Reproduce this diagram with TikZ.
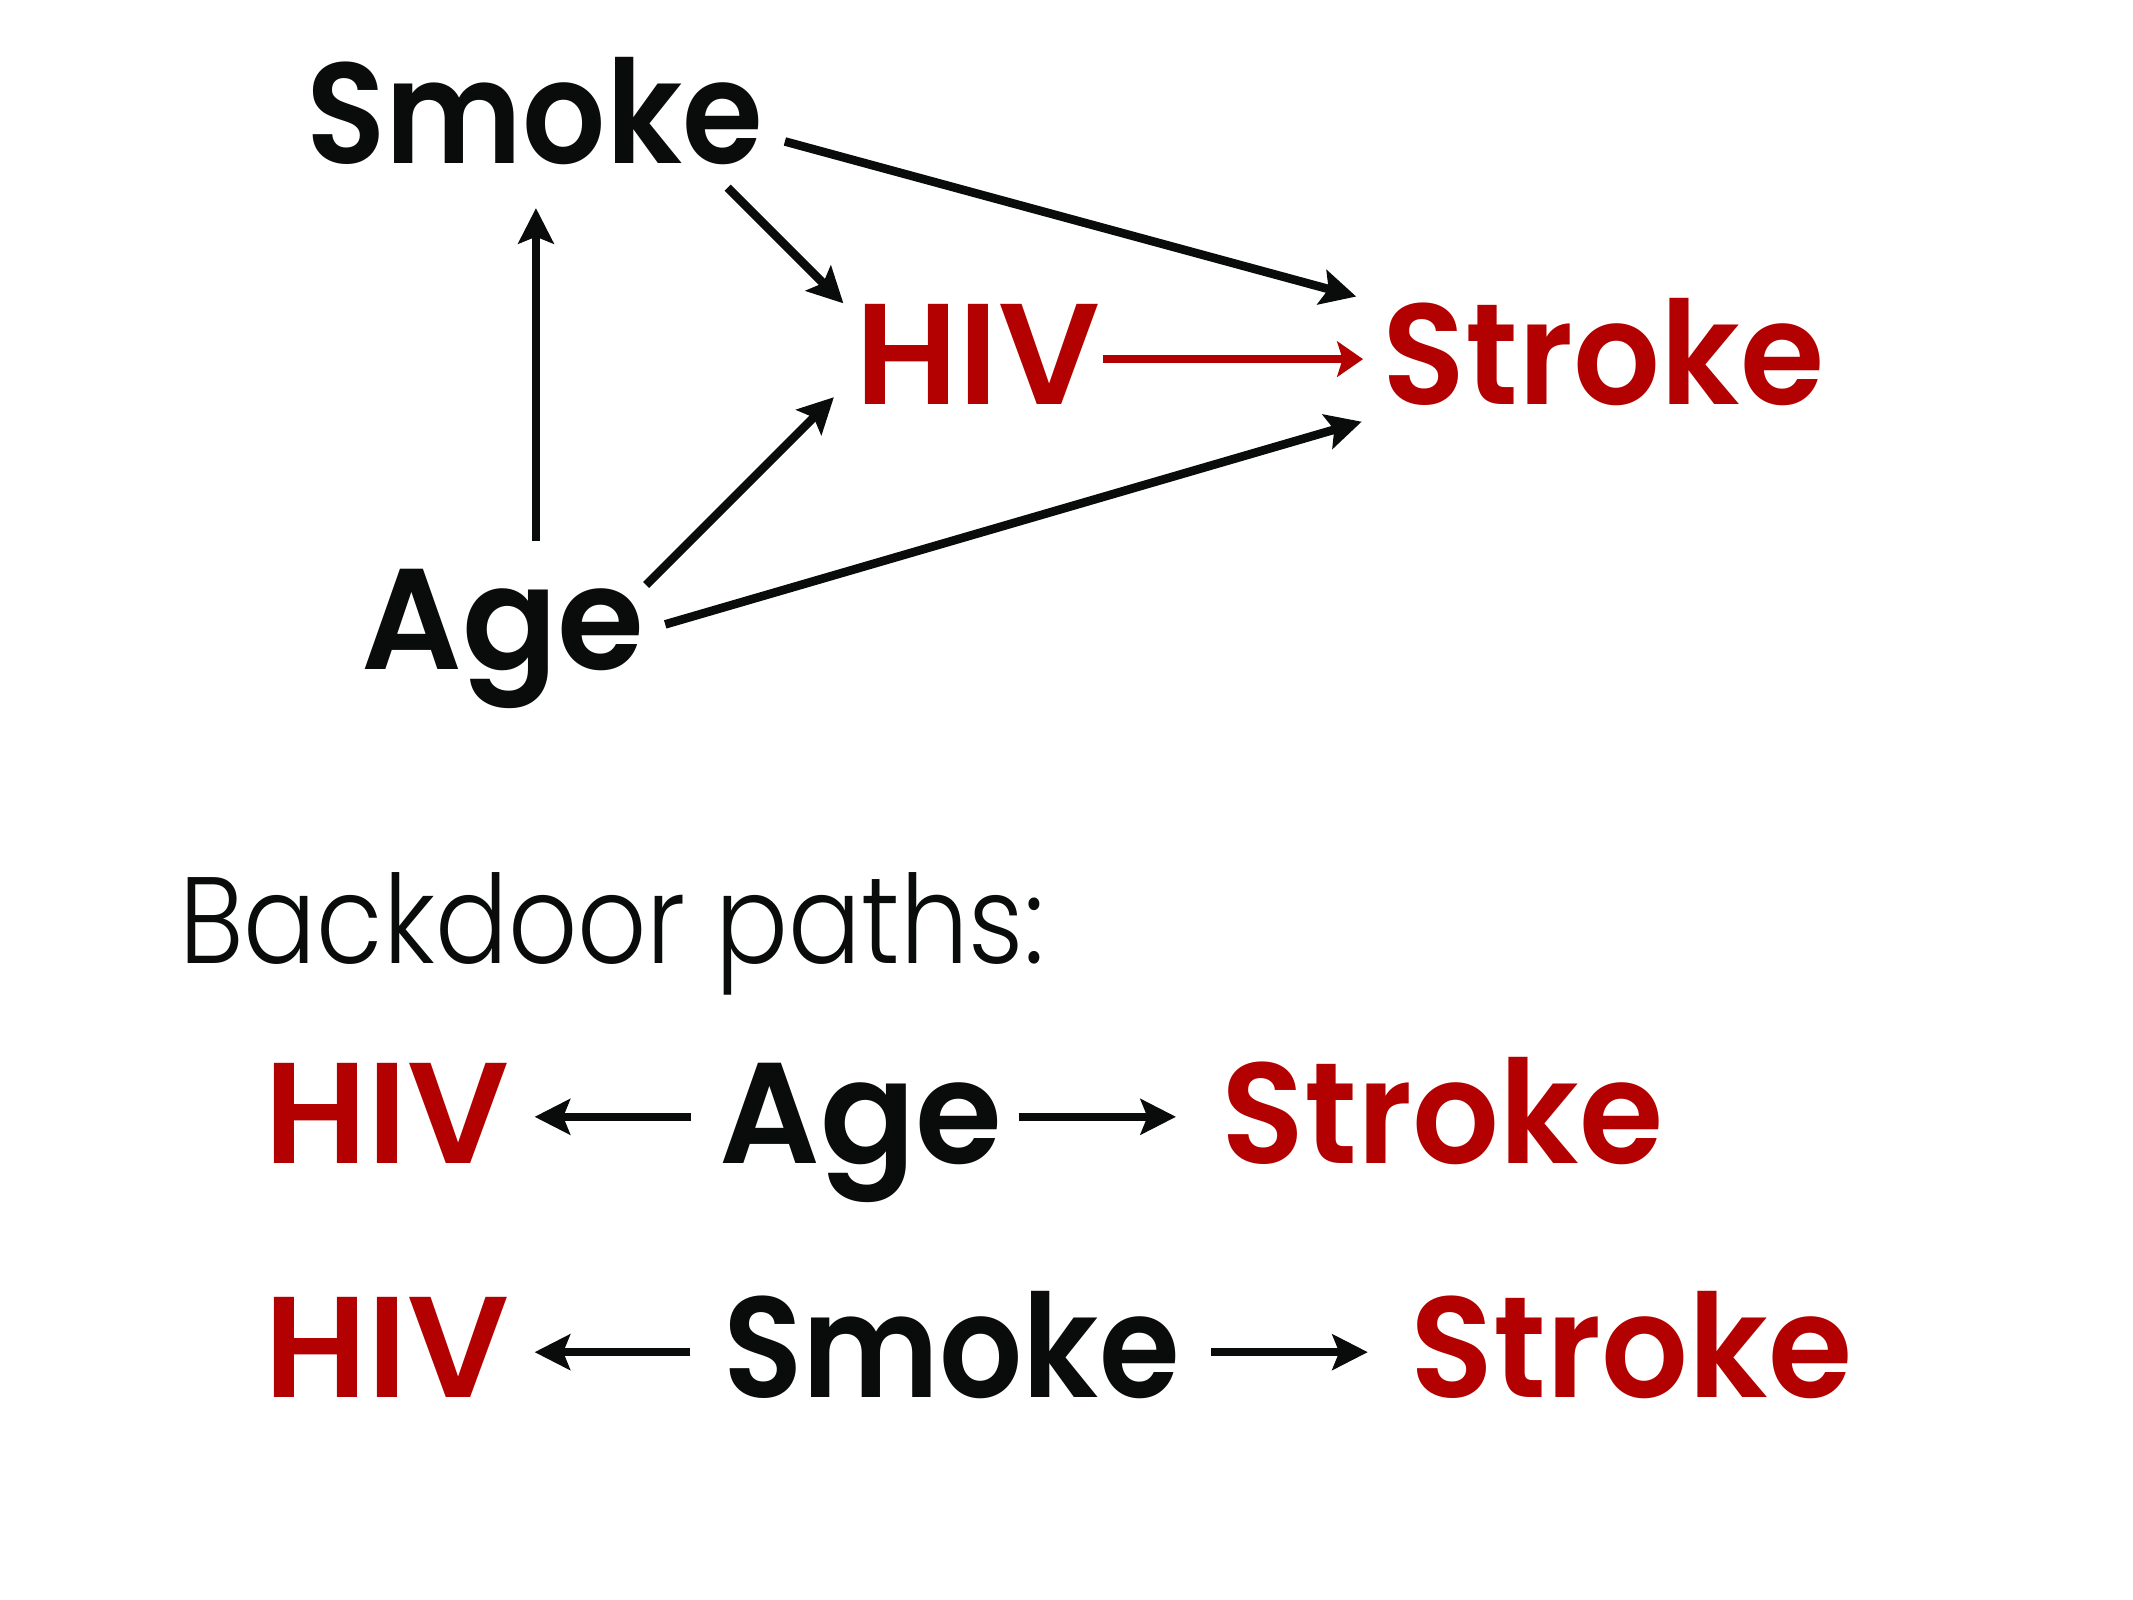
\documentclass[tikz,border=0pt]{standalone}
\usepackage{graphicx}
\usepackage{fontspec}
\setmainfont{Poppins}
\newfontfamily\demifont{Poppins SemiBold}
\newfontfamily\thinfont{Poppins Light}
\usetikzlibrary{arrows.meta, calc}
\definecolor{hivred}{HTML}{B30000}
\definecolor{inkblack}{HTML}{0A0C0B}
\tikzset{
  var/.style={inner sep=0pt, anchor=base, text=inkblack,
    font=\demifont\fontsize{30}{30}\selectfont},
  expo/.style={var, text=hivred},
  arrow/.style={line width=1.8pt, draw=inkblack,
    -{Stealth[length=0.26cm, width=0.26cm, inset=0.05cm]}},
  redarrow/.style={arrow, draw=hivred,
    -{Stealth[length=0.19cm, width=0.26cm, inset=0.04cm]}},
}
\newcommand{\smokeword}{\scalebox{0.91}[1]{Smoke}}
\newcommand{\strokeword}{\scalebox{0.95}[1]{Stroke}}
\newcommand{\ageword}{\scalebox{0.98}[1]{Age}}

\begin{document}
\begin{tikzpicture}[x=0.01cm, y=-0.01cm]
	\useasboundingbox (0,0) rectangle (1568,1176);

	% causal graph
	\node [var] (smoke) at (393,120) {\smokeword};
	\node [expo] (hiv) at (719,297) {HIV};
	\node [expo] (stroke) at (1179,297) {\strokeword};
	\node [var] (age) at (370,492) {\ageword};

	% arrows
	\draw [arrow] ($(age.base)+(24,-94)$) -- ($(smoke.base)+(1,33)$);
	\draw [arrow] ($(smoke.base)+(142,18)$) -- ($(hiv.base)+(-99,-74)$);
	\draw [arrow] ($(smoke.base)+(184,-16)$) -- ($(stroke.base)+(-182,-79)$);
	\draw [redarrow] ($(hiv.base)+(92,-33)$) -- ($(stroke.base)+(-177,-33)$);
	\draw [arrow] ($(age.base)+(105,-62)$) -- ($(hiv.base)+(-106,-5)$);
	\draw [arrow] ($(age.base)+(119,-33)$) -- ($(stroke.base)+(-178,13)$);

	% backdoor paths
	\node [anchor=base west, inner sep=0pt, text=inkblack,
	  font=\thinfont\fontsize{25.7}{26}\selectfont] (title) at (131,708)
	  {\scalebox{0.88}[1]{Backdoor paths:}};

	\node [expo] (hiv1) at (284.5,855) {HIV};
	\node [var] (age1) at (633,855) {\ageword};
	\node [expo] (stroke1) at (1060.5,855) {\strokeword};

	\node [expo] (hiv2) at (284.5,1027) {HIV};
	\node [var] (smoke2) at (699.5,1027) {\smokeword};
	\node [expo] (stroke2) at (1199.5,1027) {\strokeword};

	\draw [arrow] ($(age1.base)+(-125,-34)$) -- ($(hiv1.base)+(108.5,-34)$);
	\draw [arrow] ($(age1.base)+(116,-34)$) -- ($(stroke1.base)+(-196,-34)$);
	\draw [arrow] ($(smoke2.base)+(-192,-33)$) -- ($(hiv2.base)+(108.5,-33)$);
	\draw [arrow] ($(smoke2.base)+(191,-33)$) -- ($(stroke2.base)+(-194,-33)$);
\end{tikzpicture}
\end{document}
